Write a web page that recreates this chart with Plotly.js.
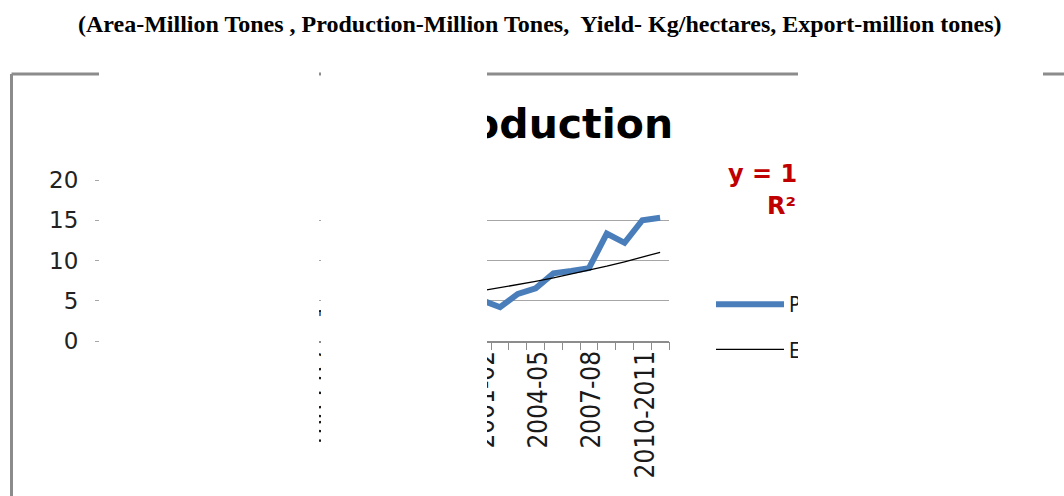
<!DOCTYPE html>
<html>
<head>
<meta charset="utf-8">
<script src="https://cdn.plot.ly/plotly-3.0.1.min.js"></script>
<style>
  html, body { margin: 0; padding: 0; background: #fff; }
  #wrap { position: relative; width: 1064px; height: 496px; overflow: hidden; }
  #chart { position: absolute; left: 0; top: 0; width: 1064px; height: 496px; }
  .mask { position: absolute; background: #fff; z-index: 10; top: 60px; height: 440px; }
</style>
</head>
<body>
<div id="wrap">
  <div id="chart"></div>
  <div class="mask" style="left:99px;width:220px;"></div>
  <div class="mask" style="left:321px;width:166px;"></div>
  <div class="mask" style="left:798px;width:245px;"></div>
</div>
<script>
// ---- data (values before 2001-02 are hidden in the reference and estimated) ----
const years = [
  "1980-81","1981-82","1982-83","1983-84","1984-85","1985-86","1986-87","1987-88",
  "1988-89","1989-90","1990-91","1991-92","1992-93","1993-94","1994-95","1995-96",
  "1996-97","1997-98","1998-99","1999-00","2000-01","2001-02","2002-03","2003-04",
  "2004-05","2005-06","2006-07","2007-08","2008-09","2009-10","2010-2011","2011-12"
];
const production = [
  2.6, 2.4, 2.9, 2.7, 3.1, 2.9, 3.3, 3.0,
  3.4, 3.2, 3.6, 3.3, 3.5, 3.9, 3.7, 4.2,
  4.5, 4.1, 4.8, 5.2, 4.6, 5.05, 4.2, 5.85,
  6.55, 8.4, 8.7, 9.05, 13.35, 12.2, 15.0, 15.3
];
// exponential trendline: y = a * e^(b x), x = 1..n
const trendA = 1.79;
const trendB = 0.0568;
const trendR2 = "0.86";
const yTicks = [0, 5, 10, 15, 20];
const labelEvery = 3;

const trend = years.map((_, i) => trendA * Math.exp(trendB * (i + 1)));
const labeledYears = years.filter((_, i) => i % labelEvery === 0);

// pixel helpers for layout placement (plot area: x 100..669, y 180..341)
const L = 100, R = 669, T = 180, B = 341;
const px = x => (x - L) / (R - L);
const py = y => (B - y) / (B - T);

const traces = [
  {
    x: years, y: production, type: "scatter", mode: "lines",
    name: "Production", legendgroup: "a",
    line: { color: "#4a7ebb", width: 6, shape: "linear" }
  },
  {
    x: years, y: trend, type: "scatter", mode: "lines", xaxis: "x2",
    name: "Expon. (Production)", legendgroup: "b",
    line: { color: "#000000", width: 1.3 }
  }
];

const layout = {
  width: 1064, height: 496,
  margin: { l: L, r: 1064 - R, t: T, b: 496 - B },
  paper_bgcolor: "#ffffff", plot_bgcolor: "#ffffff",
  showlegend: true,
  title: {
    text: "<b>Production</b>",
    font: { family: "DejaVu Sans", size: 41, color: "#000000" },
    xref: "container", yref: "container",
    x: 547 / 1064, xanchor: "center",
    y: 1 - 124 / 496, yanchor: "middle"
  },
  xaxis: {
    type: "category", categoryorder: "array", categoryarray: years,
    range: [-0.5, years.length - 0.5],
    tickmode: "array", tickvals: labeledYears, ticktext: labeledYears,
    ticks: "", tickangle: -90,
    ticklabelstandoff: -2, ticklabelshift: 3,
    tickfont: { family: "Liberation Sans Narrow, DejaVu Sans Condensed, sans-serif", size: 26, color: "#1a1a1a" },
    showgrid: false, zeroline: false,
    showline: true, linecolor: "#8c8c8c", linewidth: 1.5,
    fixedrange: true
  },
  xaxis2: {
    type: "category", categoryorder: "array", categoryarray: years,
    range: [-0.5, years.length - 0.5],
    overlaying: "x", anchor: "y", side: "bottom",
    tickmode: "array", tickvals: years,
    tickson: "boundaries",
    ticks: "outside", ticklen: 8, tickcolor: "#8c8c8c", tickwidth: 1,
    showticklabels: false, showgrid: false, zeroline: false, showline: false,
    fixedrange: true
  },
  yaxis: {
    range: [0, 20],
    tickmode: "array", tickvals: yTicks,
    ticks: "outside", ticklen: 4, tickcolor: "#a6a6a6",
    showline: false, zeroline: false,
    showgrid: true, gridcolor: "#a6a6a6", gridwidth: 1,
    tickfont: { family: "DejaVu Sans", size: 23, color: "#222222" },
    ticklabelstandoff: 12,
    fixedrange: true
  },
  legend: {
    xref: "container", yref: "container",
    x: 711 / 1064, xanchor: "left",
    y: 1 - 284 / 496, yanchor: "top",
    bgcolor: "rgba(0,0,0,0)", borderwidth: 0,
    itemwidth: 68, tracegroupgap: 15,
    font: { family: "Liberation Sans Narrow, DejaVu Sans Condensed, sans-serif", size: 21, color: "#1a1a1a" }
  },
  annotations: [
    {
      text: "<b>(Area-Million Tones , Production-Million Tones,  Yield- Kg/hectares, Export-million tones)</b>",
      xref: "paper", yref: "paper", x: px(540), y: py(24),
      xanchor: "center", yanchor: "middle", showarrow: false,
      font: { family: "Liberation Serif, Times New Roman, serif", size: 24, color: "#000000" }
    },
    {
      text: "<b>y = " + trendA + "e<sup>" + trendB + "x</sup></b>",
      xref: "paper", yref: "paper", x: px(726), y: py(172),
      xanchor: "left", yanchor: "middle", showarrow: false,
      font: { family: "DejaVu Sans", size: 24, color: "#c00000" }
    },
    {
      text: "<b>R² = " + trendR2 + "</b>",
      xref: "paper", yref: "paper", x: px(765), y: py(206),
      xanchor: "left", yanchor: "middle", showarrow: false,
      font: { family: "DejaVu Sans", size: 24, color: "#c00000" }
    }
  ],
  shapes: [
    { type: "line", xref: "paper", yref: "paper",
      x0: px(11.5), x1: px(1080), y0: py(74), y1: py(74),
      line: { color: "#8c8c8c", width: 3 } },
    { type: "line", xref: "paper", yref: "paper",
      x0: px(11.5), x1: px(11.5), y0: py(74), y1: py(510),
      line: { color: "#8c8c8c", width: 3 } }
  ]
};

Plotly.newPlot("chart", traces, layout, { staticPlot: true, displayModeBar: false });
</script>
</body>
</html>
